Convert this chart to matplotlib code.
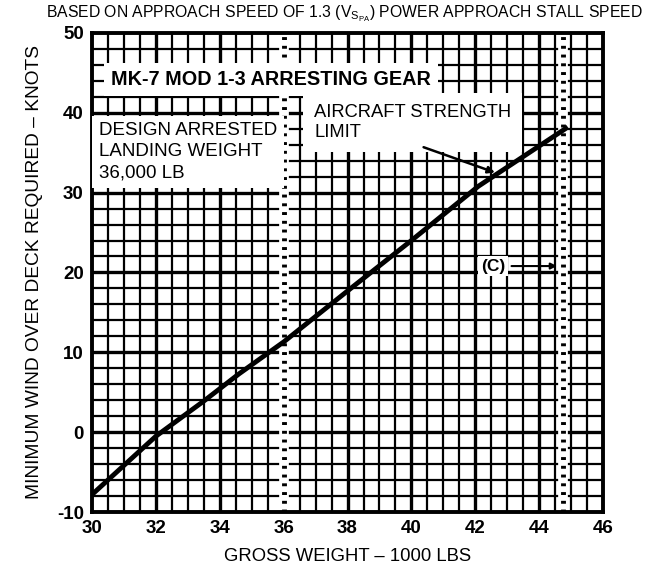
import numpy as np
import matplotlib
matplotlib.use('Agg')
import matplotlib.pyplot as plt

# line (gross weight in 1000 lbs, wind over deck in knots)
weight = [30.0, 32.0, 33.5, 34.6, 36.0, 38.1, 40.0, 42.1, 44.9]
wod = [-7.8, -0.5, 3.9, 7.3, 11.3, 18.0, 24.0, 30.8, 38.2]

design_weight = 36.0
strength_limit = 44.75

x_ticks = [30, 32, 34, 36, 38, 40, 42, 44, 46]
y_ticks = [-10, 0, 10, 20, 30, 40, 50]

plt.rcParams['font.family'] = ['Liberation Sans', 'DejaVu Sans']
plt.rcParams['mathtext.default'] = 'regular'

fig = plt.figure(figsize=(6.49, 5.67), dpi=100)
ax = fig.add_axes([0.142, 0.097, 0.787, 0.845])
ax.set_xlim(30, 46)
ax.set_ylim(-10, 50)

# graph paper grid
for x in np.arange(30.5, 46, 0.5):
    lw = 2.4 if x % 2 == 0 else 1.6
    ax.axvline(x, color='black', lw=lw, zorder=1)
for y in np.arange(-8, 50, 2):
    lw = 2.4 if y % 10 == 0 else 1.6
    ax.axhline(y, color='black', lw=lw, zorder=1)

for sp in ax.spines.values():
    sp.set_linewidth(2.8)

ax.set_xticks(x_ticks)
ax.set_yticks(y_ticks)
ax.set_yticklabels(['-10', '0', '10', '20', '30', '40', '50'])
ax.tick_params(length=0, labelsize=13.5, pad=6)
for lab in ax.get_xticklabels() + ax.get_yticklabels():
    lab.set_fontweight('bold')

# limit lines
for xv in [design_weight, strength_limit]:
    ax.axvline(xv, color='white', lw=7, zorder=2)
    ax.axvline(xv, color='black', lw=3.5, ls=(0, (0.6, 1.2)), zorder=3)

ax.plot(weight, wod, color='black', lw=3.5, zorder=4, solid_capstyle='butt')

ax.text(30.6, 44.2, 'MK-7 MOD 1-3 ARRESTING GEAR', fontsize=14.3, fontweight='bold',
        va='center', ha='left', zorder=5,
        bbox=dict(facecolor='white', edgecolor='none', pad=5))
ax.text(30.2, 35.1, 'DESIGN ARRESTED\nLANDING WEIGHT\n36,000 LB', fontsize=13.5,
        va='center', ha='left', linespacing=1.3, zorder=5,
        bbox=dict(facecolor='white', edgecolor='none', pad=5))
ax.text(36.95, 38.8, 'AIRCRAFT STRENGTH\nLIMIT', fontsize=13.2,
        va='center', ha='left', linespacing=1.2, zorder=5,
        bbox=dict(facecolor='white', edgecolor='none', pad=8))
ax.annotate('', xy=(42.7, 32.4), xytext=(40.3, 35.8),
            arrowprops=dict(arrowstyle='-|>', color='black', lw=1.8,
                            mutation_scale=10), zorder=6)

ax.text(42.55, 20.8, '(C)', fontsize=12.5, fontweight='bold', va='center', ha='center',
        zorder=5, bbox=dict(facecolor='white', edgecolor='none', pad=2))
ax.annotate('', xy=(44.65, 20.8), xytext=(43.05, 20.8),
            arrowprops=dict(arrowstyle='-|>', color='black', lw=1.5,
                            mutation_scale=9), zorder=6)

ax.set_xlabel('GROSS WEIGHT \u2013 1000 LBS', fontsize=13.3, labelpad=8)
ax.set_ylabel('MINIMUM WIND OVER DECK REQUIRED \u2013 KNOTS', fontsize=13.8, labelpad=10)

fig.text(0.53, 0.975, 'BASED ON APPROACH SPEED OF 1.3 ($V_{S_{PA}}$) POWER APPROACH STALL SPEED',
         fontsize=11.3, ha='center', va='center')

fig.savefig('out.png', dpi=100)
